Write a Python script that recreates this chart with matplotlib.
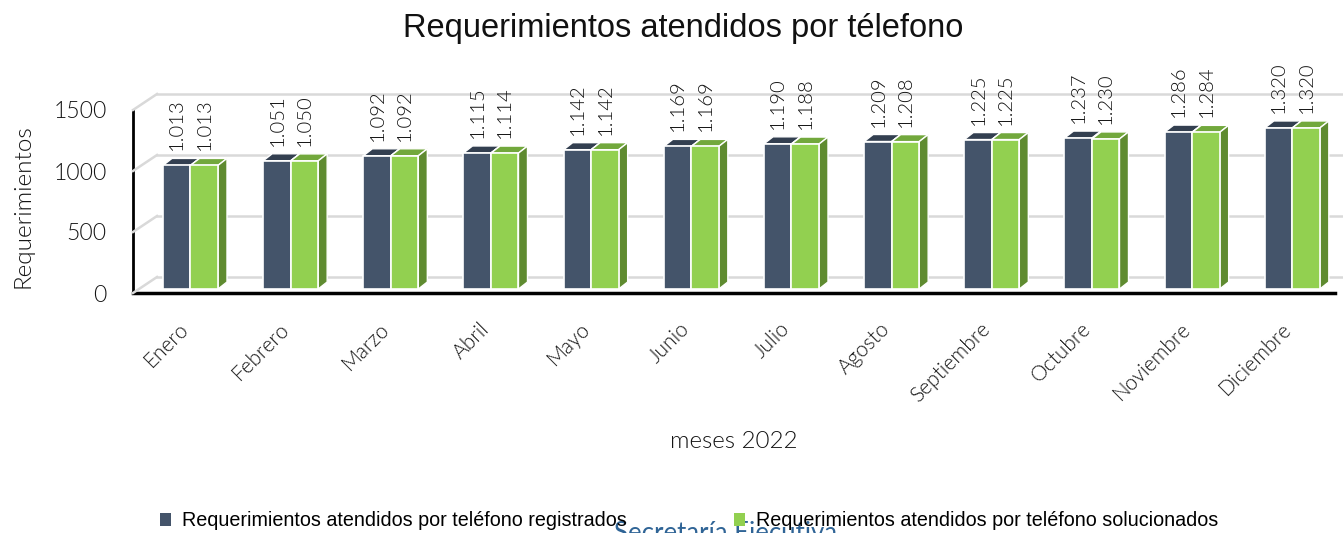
import numpy as np
import matplotlib.pyplot as plt
import matplotlib.transforms as mtransforms
from matplotlib.patches import Polygon, Patch
from matplotlib.lines import Line2D

meses = ['Enero', 'Febrero', 'Marzo', 'Abril', 'Mayo', 'Junio', 'Julio',
         'Agosto', 'Septiembre', 'Octubre', 'Noviembre', 'Diciembre']
registrados = [1013, 1051, 1092, 1115, 1142, 1169, 1190, 1209, 1225, 1237, 1286, 1320]
solucionados = [1013, 1050, 1092, 1114, 1142, 1169, 1188, 1208, 1225, 1230, 1284, 1320]
y_ticks = [0, 500, 1000, 1500]

serie_1 = 'Requerimientos atendidos por teléfono registrados'
serie_2 = 'Requerimientos atendidos por teléfono solucionados'

# colores (frente, tapa, lateral)
azul = ('#44546a', '#333f50', '#2b3544')
verde = ('#92d050', '#72a83c', '#5f8b30')
gris = '#d9d9d9'
texto = '#141414'

fuente = ['Lato', 'DejaVu Sans']
peso = 300  # Lato Light
fuente_estrecha = ['Liberation Sans Narrow', 'Liberation Sans', 'DejaVu Sans']

W, H = 1343, 533
fig = plt.figure(figsize=(W / 100, H / 100), dpi=100)
ax = fig.add_axes([133 / W, (H - 293) / H, (1335 - 133) / W, (293 - 110) / H])
ax.set_xlim(-0.574, 11.426)
ax.set_ylim(0, 1500)
for s in ['top', 'right']:
    ax.spines[s].set_visible(False)
ax.spines['left'].set_linewidth(2)
ax.spines['bottom'].set_linewidth(2.5)
ax.set_xticks([])
ax.set_yticks(y_ticks)
ax.tick_params(axis='y', length=0, pad=19, labelsize=16.5, labelcolor=texto)
for lab in ax.get_yticklabels():
    lab.set_family(fuente)
    lab.set_fontweight(peso)

# escala en pixeles para la profundidad 3D
px_x = (1335 - 133) / (11.426 + 0.574)
px_y = (293 - 110) / 1500
prof_x = 9 / px_x
prof_y = 7 / px_y

# pared del fondo (desplazada respecto al frente)
fondo = ax.transData + mtransforms.ScaledTranslation(24 / 100, 16 / 100, fig.dpi_scale_trans)
x0, x1 = ax.get_xlim()
for t in y_ticks:
    ax.plot([x0, x1 + 1], [t, t], color=gris, lw=1.8, transform=fondo, clip_on=False, zorder=0.5)
    p_front = ax.transData.transform((x0, t))
    p_back = fondo.transform((x0, t))
    fig.add_artist(Line2D([p_front[0], p_back[0]], [p_front[1], p_back[1]], color=gris, lw=1.8,
                          transform=mtransforms.IdentityTransform(), zorder=0.5))

# barras con efecto 3D
barra = ax.transData + mtransforms.ScaledTranslation(0, 4 / 100, fig.dpi_scale_trans)
w = 0.2745


def barra_3d(xc, v, colores):
    a, b = xc - w / 2, xc + w / 2
    tapa = Polygon([(a, v), (b, v), (b + prof_x, v + prof_y), (a + prof_x, v + prof_y)], closed=True,
                   facecolor=colores[1], edgecolor='white', lw=1, transform=barra, zorder=2)
    lado = Polygon([(b, 0), (b + prof_x, prof_y), (b + prof_x, v + prof_y), (b, v)], closed=True,
                   facecolor=colores[2], edgecolor='white', lw=1, transform=barra, zorder=2)
    frente = Polygon([(a, 0), (b, 0), (b, v), (a, v)], closed=True,
                     facecolor=colores[0], edgecolor='white', lw=1.2, transform=barra, zorder=2)
    for p in (tapa, lado, frente):
        ax.add_patch(p)
    ax.annotate(f'{v:,}'.replace(',', '.'), xy=(xc, v), xytext=(0, 19), textcoords='offset pixels',
                rotation=90, ha='center', va='bottom', fontsize=14.5, family=fuente, fontweight=peso,
                color=texto, annotation_clip=False)


for i in range(len(meses)):
    barra_3d(i - w / 2, registrados[i], azul)
    barra_3d(i + w / 2, solucionados[i], verde)
    ax.annotate(meses[i], xy=(i, 0), xytext=(-4.5, -33), textcoords='offset pixels',
                rotation=45, ha='right', va='center', rotation_mode='anchor',
                fontsize=15, family=fuente, fontweight=peso, color=texto, annotation_clip=False)

fig.text(683.5 / W, (H - 28) / H, 'Requerimientos atendidos por télefono', ha='center', va='center',
         fontsize=23.5, family=fuente_estrecha, color='#111111')
fig.text(23 / W, (H - 206) / H, 'Requerimientos', rotation=90, ha='center', va='center',
         fontsize=17.5, family=fuente, fontweight=peso, color=texto)
fig.text(733.5 / W, (H - 442) / H, 'meses 2022', ha='center', va='center',
         fontsize=17.4, family=fuente, fontweight=peso, color=texto)

# texto de fondo cortado en el borde inferior
fig.text(725 / W, (H - 541) / H, 'Secretaría Ejecutiva', ha='center', va='baseline',
         fontsize=18.5, family=fuente, color='#2f6496')

handles = [Patch(facecolor=azul[0]), Patch(facecolor=verde[0])]
fig.legend(handles, [serie_1, serie_2], loc='center', bbox_to_anchor=(689 / W, (H - 521) / H),
           ncol=2, frameon=False, handlelength=0.6, handleheight=0.6, handletextpad=0.55,
           columnspacing=5.4, prop={'family': fuente_estrecha, 'size': 14.2})

fig.savefig('out.png', dpi=100)
